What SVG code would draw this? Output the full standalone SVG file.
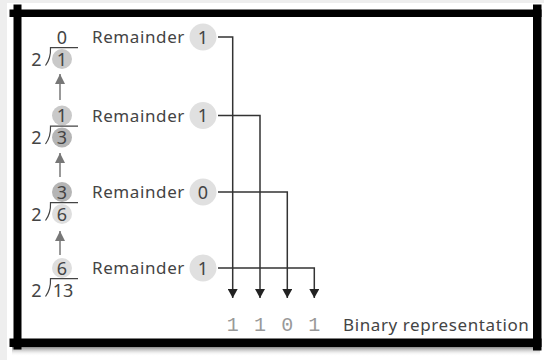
<svg xmlns="http://www.w3.org/2000/svg" width="544" height="360" viewBox="0 0 544 360">
<defs>
<style>
.lbl{font-family:"Noto Sans","Open Sans",sans-serif;font-size:17px;fill:#444;letter-spacing:0.6px}
.num{font-family:"Noto Sans","Open Sans",sans-serif;font-size:18px;fill:#444;text-anchor:middle}
.bit{font-family:"Liberation Mono",monospace;font-size:20px;fill:#999;text-anchor:middle}
.rc{fill:#e0e0e0}
.lt{fill:#dedede}
.md{fill:#c9c9c9}
.dk{fill:#b5b5b5}
.bar{fill:none;stroke:#444;stroke-width:1.2}
.con{fill:none;stroke:#333;stroke-width:1.5}
.up{stroke:#777;stroke-width:1.5}
.frame{fill:#000}
</style>
<marker id="ah" markerWidth="10" markerHeight="9" refX="5" refY="9" markerUnits="userSpaceOnUse" viewBox="0 0 10 9"><path d="M0,0 L10,0 L5,9 Z" fill="#222"/></marker>
<marker id="uh" markerWidth="10" markerHeight="10" refX="5" refY="0" markerUnits="userSpaceOnUse" viewBox="0 0 10 10"><path d="M5,0 L10,10 L0,10 Z" fill="#777"/></marker>
<linearGradient id="sh" x1="0" y1="0" x2="0" y2="1"><stop offset="0" stop-color="#888"/><stop offset="1" stop-color="#fff" stop-opacity="0"/></linearGradient>
</defs>
<rect width="544" height="360" fill="#eeeeee"/>
<rect x="7" y="3" width="537" height="357" fill="#ffffff"/>
<rect x="12" y="347" width="528" height="9" fill="url(#sh)"/>
<g id="frame">
<rect class="frame" x="9.5" y="9.5" width="532" height="7.5"/>
<rect class="frame" x="13.5" y="4.5" width="8" height="345"/>
<rect class="frame" x="9.5" y="338.5" width="532" height="8.5"/>
<rect class="frame" x="533" y="4.5" width="8.5" height="346"/>
</g>

<g id="div1">
<text class="num" x="62" y="43.5">0</text>
<text class="num" x="36.5" y="65.5">2</text>
<path class="bar" d="M45.5,65.5 Q51,58 50.5,47.7 L78,47.7"/>
<circle class="md" cx="62" cy="59" r="10"/>
<text class="num" x="62" y="65.5">1</text>
</g>
<g id="div2">
<circle class="md" cx="62" cy="115.5" r="10"/>
<text class="num" x="62" y="122">1</text>
<text class="num" x="36.5" y="144">2</text>
<path class="bar" d="M45.5,144 Q51,136.5 50.5,126.2 L78,126.2"/>
<circle class="dk" cx="62" cy="137.5" r="10"/>
<text class="num" x="62" y="144">3</text>
</g>
<g id="div3">
<circle class="dk" cx="62" cy="192" r="10"/>
<text class="num" x="62" y="198.5">3</text>
<text class="num" x="36.5" y="220.5">2</text>
<path class="bar" d="M45.5,220.5 Q51,213 50.5,202.7 L78,202.7"/>
<circle class="lt" cx="62" cy="214" r="10"/>
<text class="num" x="62" y="220.5">6</text>
</g>
<g id="div4">
<circle class="lt" cx="62" cy="268" r="10"/>
<text class="num" x="62" y="274.5">6</text>
<text class="num" x="36.5" y="296.5">2</text>
<path class="bar" d="M45.5,296.5 Q51,289 50.5,278.7 L78,278.7"/>
<text class="num" x="63" y="296.5">13</text>
</g>

<g id="rem1">
<text class="lbl" x="92" y="43">Remainder</text>
<circle class="rc" cx="203" cy="37" r="13.5"/>
<text class="num" x="203" y="43.5">1</text>
</g>
<g id="rem2">
<text class="lbl" x="92" y="121.5">Remainder</text>
<circle class="rc" cx="203" cy="115.5" r="13.5"/>
<text class="num" x="203" y="122">1</text>
</g>
<g id="rem3">
<text class="lbl" x="92" y="198">Remainder</text>
<circle class="rc" cx="203" cy="192" r="13.5"/>
<text class="num" x="203" y="198.5">0</text>
</g>
<g id="rem4">
<text class="lbl" x="92" y="274">Remainder</text>
<circle class="rc" cx="203" cy="268" r="13.5"/>
<text class="num" x="203" y="274.5">1</text>
</g>

<g id="result">
<text class="bit" x="232.7" y="331">1</text>
<text class="bit" x="260" y="331">1</text>
<text class="bit" x="287.3" y="331">0</text>
<text class="bit" x="314.3" y="331">1</text>
<text class="lbl" x="343" y="331">Binary representation</text>
</g>

<g id="connectors">
<path class="con" d="M218,37 H232.7 V298" marker-end="url(#ah)"/>
<path class="con" d="M218,115.5 H260 V298" marker-end="url(#ah)"/>
<path class="con" d="M218,192 H287.3 V298" marker-end="url(#ah)"/>
<path class="con" d="M218,268 H314.3 V298" marker-end="url(#ah)"/>
<line class="up" x1="60" y1="100" x2="60" y2="74" marker-end="url(#uh)"/>
<line class="up" x1="60" y1="177" x2="60" y2="153" marker-end="url(#uh)"/>
<line class="up" x1="60" y1="255" x2="60" y2="231" marker-end="url(#uh)"/>
</g>
</svg>
